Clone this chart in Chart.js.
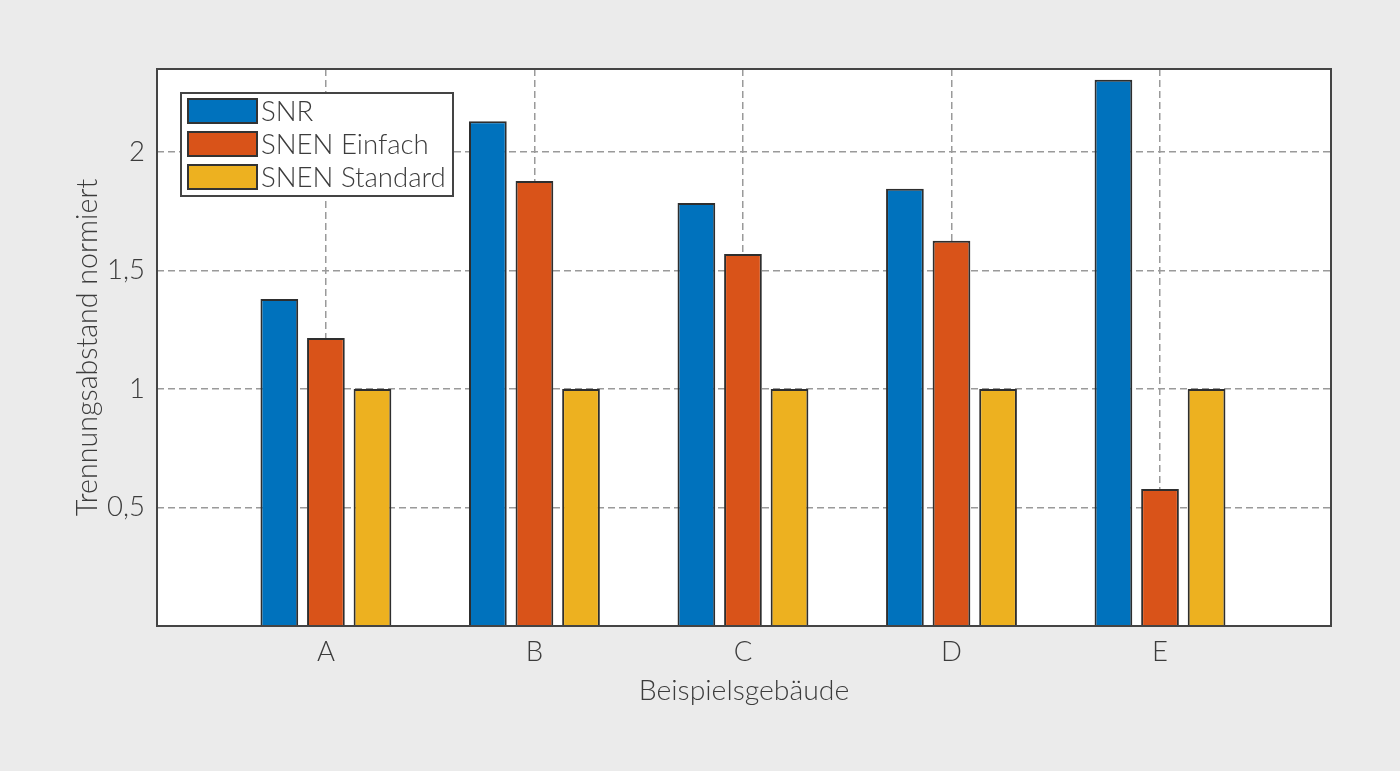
<!DOCTYPE html>
<html>
<head>
<meta charset="utf-8">
<script src="https://cdn.jsdelivr.net/npm/chart.js@4"></script>
<style>
  html, body { margin:0; padding:0; background:#ebebeb; }
  #wrap { width:1400px; height:771px; }
</style>
</head>
<body>
<div id="wrap"><canvas id="c" width="1400" height="771"></canvas></div>
<script>
const categories = ['A', 'B', 'C', 'D', 'E'];
const seriesNames = ['SNR', 'SNEN Einfach', 'SNEN Standard'];
const snr = [1.38, 2.13, 1.785, 1.845, 2.305];
const snenEinfach = [1.215, 1.877, 1.57, 1.625, 0.578];
const snenStandard = [1, 1, 1, 1, 1];
const yTicks = [0.5, 1, 1.5, 2];
const colors = ['#0072BD', '#D95319', '#EDB120'];

const FONT = 'Lato, "Open Sans", sans-serif';
const TXT = '#3c3c3c';

const toPts = arr => arr.map((v, i) => ({ x: i + 1, y: v }));

const framePlugin = {
  id: 'frame',
  beforeDraw(chart) {
    const { ctx, chartArea: a } = chart;
    ctx.save();
    ctx.fillStyle = '#ffffff';
    ctx.fillRect(a.left, a.top, a.right - a.left, a.bottom - a.top);
    ctx.restore();
  },
  afterDraw(chart) {
    const { ctx, chartArea: a } = chart;
    ctx.save();
    ctx.strokeStyle = '#444444';
    ctx.lineWidth = 2;
    ctx.strokeRect(a.left, a.top, a.right - a.left, a.bottom - a.top);
    // legend box
    const lx = 181, ly = 93, lw = 272, lh = 103;
    ctx.fillStyle = '#ffffff';
    ctx.fillRect(lx, ly, lw, lh);
    ctx.lineWidth = 2;
    ctx.strokeStyle = '#444444';
    ctx.strokeRect(lx, ly, lw, lh);
    ctx.font = '300 27.6px ' + FONT;
    ctx.textBaseline = 'middle';
    ctx.textAlign = 'left';
    chart.data.datasets.forEach((ds, i) => {
      const y = 99 + i * 33;
      ctx.fillStyle = ds.backgroundColor;
      ctx.fillRect(188, y, 69, 24);
      ctx.lineWidth = 2;
      ctx.strokeStyle = '#333333';
      ctx.strokeRect(188, y, 69, 24);
      ctx.fillStyle = TXT;
      ctx.fillText(ds.label, 261, y + 13);
    });
    ctx.restore();
  }
};

new Chart(document.getElementById('c'), {
  type: 'bar',
  data: {
    datasets: [
      { label: seriesNames[0], data: toPts(snr), backgroundColor: colors[0] },
      { label: seriesNames[1], data: toPts(snenEinfach), backgroundColor: colors[1] },
      { label: seriesNames[2], data: toPts(snenStandard), backgroundColor: colors[2] }
    ]
  },
  options: {
    responsive: false,
    animation: false,
    devicePixelRatio: 1,
    categoryPercentage: 0.67,
    barPercentage: 0.81,
    layout: { padding: { left: 0, right: 69, top: 69, bottom: 0 } },
    plugins: { legend: { display: false }, tooltip: { enabled: false } },
    elements: { bar: { borderColor: '#2e2e2e', borderWidth: 2 } },
    scales: {
      x: {
        type: 'linear',
        min: 0.19,
        max: 5.82,
        offset: false,
        afterBuildTicks: s => { s.ticks = categories.map((c, i) => ({ value: i + 1 })); },
        afterFit: s => { s.height = 145; },
        ticks: {
          callback: v => categories[Math.round(v) - 1] || '',
          font: { family: FONT, size: 27.5, weight: 300 },
          color: TXT,
          padding: 10,
          maxRotation: 0,
          autoSkip: false
        },
        grid: { offset: false, color: '#9a9a9a', lineWidth: 1.5, drawTicks: false },
        border: { display: false, dash: [7, 4] },
        title: {
          display: true,
          text: 'Beispielsgebäude',
          font: { family: FONT, size: 28.4, weight: 300 },
          color: TXT,
          padding: { top: 0, bottom: 63 }
        }
      },
      y: {
        min: 0,
        max: 2.35,
        afterBuildTicks: s => { s.ticks = yTicks.map(v => ({ value: v })); },
        afterFit: s => { s.width = 157; },
        ticks: {
          callback: v => String(v).replace('.', ','),
          font: { family: FONT, size: 27.5, weight: 300 },
          color: TXT,
          padding: 12
        },
        grid: { color: '#9a9a9a', lineWidth: 1.5, drawTicks: false },
        border: { display: false, dash: [7, 4] },
        title: {
          display: true,
          text: 'Trennungsabstand normiert',
          font: { family: FONT, size: 28.6, weight: 300 },
          color: TXT,
          padding: { top: 71, bottom: 0 }
        }
      }
    }
  },
  plugins: [framePlugin]
});
</script>
</body>
</html>
